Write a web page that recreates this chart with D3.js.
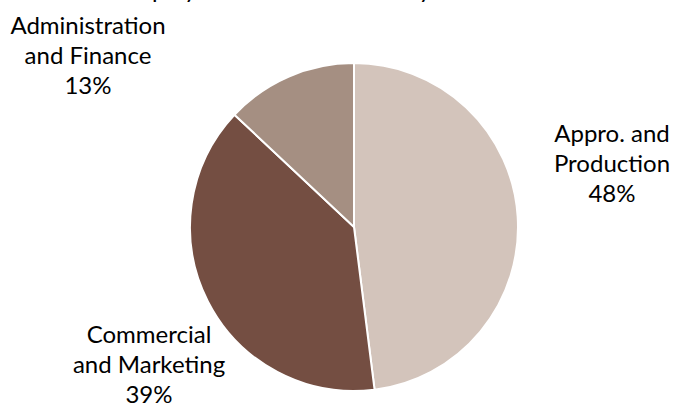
<!DOCTYPE html>
<html>
<head>
<meta charset="utf-8">
<script src="https://cdn.jsdelivr.net/npm/d3@7"></script>
<style>
  html, body { margin: 0; padding: 0; background: #ffffff; }
  svg { display: block; }
  text { font-family: Lato, "Open Sans", sans-serif; fill: #000000; }
</style>
</head>
<body>
<svg id="chart" width="675" height="408"></svg>
<script>
// Employees by function (share of headcount, %)
const categories = ["Appro. and Production", "Commercial and Marketing", "Administration and Finance"];
const labelLines = [["Appro. and", "Production"], ["Commercial", "and Marketing"], ["Administration", "and Finance"]];
const shares = [48, 39, 13];
const sliceColors = ["#d3c4bb", "#744e42", "#a58f82"];
const titleText = "Distribution of employees at the end of the year";

const width = 675, height = 408;
const cx = 354, cy = 227, radius = 164;

const svg = d3.select("#chart");

// Chart title (sits mostly above the visible area, only descenders show)
svg.append("text")
  .attr("x", -40)
  .attr("y", -2)
  .attr("font-size", 24)
  .attr("fill", "#222")
  .text(titleText);

const pie = d3.pie().sort(null).value(d => d)(shares);
const arc = d3.arc().innerRadius(0).outerRadius(radius);

const g = svg.append("g").attr("transform", `translate(${cx},${cy})`);

g.selectAll("path")
  .data(pie)
  .join("path")
  .attr("d", arc)
  .attr("fill", (d, i) => sliceColors[i])
  .attr("stroke", "#ffffff")
  .attr("stroke-width", 2)
  .attr("stroke-linejoin", "round");

// Label anchors: centre x and first baseline for each category block
const labelPos = [
  { x: 612, y: 142 },
  { x: 149, y: 343 },
  { x: 88, y: 34 }
];
const lineStep = 30;

categories.forEach((c, i) => {
  const t = svg.append("text")
    .attr("text-anchor", "middle")
    .attr("font-size", 24);
  const lines = labelLines[i].concat([shares[i] + "%"]);
  lines.forEach((ln, k) => {
    t.append("tspan")
      .attr("x", labelPos[i].x)
      .attr("y", labelPos[i].y + k * lineStep)
      .text(ln);
  });
});
</script>
</body>
</html>
